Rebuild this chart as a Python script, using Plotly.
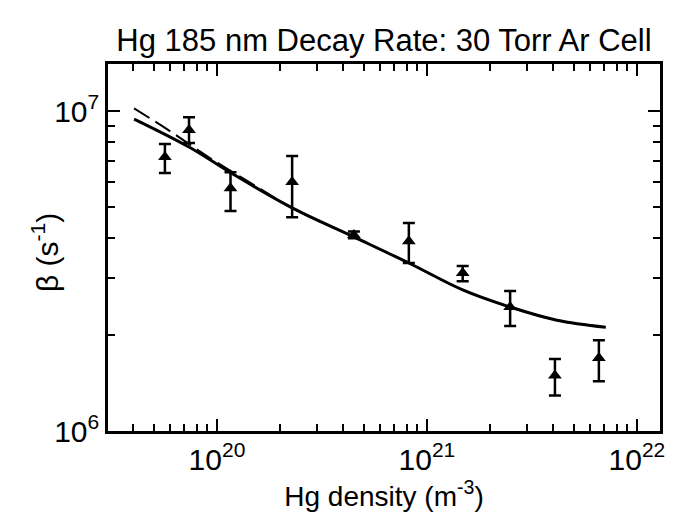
import plotly.graph_objects as go

# Measured data (Hg density in m^-3, decay rate beta in s^-1)
hg_density = [5.65e19, 7.36e19, 1.16e20, 2.28e20, 4.49e20, 8.2e20, 1.48e21, 2.49e21, 4.07e21, 6.59e21]
beta = [7.18e6, 8.73e6, 5.74e6, 6.0e6, 4.10e6, 3.92e6, 3.12e6, 2.44e6, 1.49e6, 1.69e6]
beta_hi = [7.89e6, 9.57e6, 6.44e6, 7.23e6, 4.2e6, 4.47e6, 3.28e6, 2.74e6, 1.68e6, 1.92e6]
beta_lo = [6.4e6, 7.94e6, 4.87e6, 4.66e6, 4.0e6, 3.35e6, 2.94e6, 2.13e6, 1.29e6, 1.43e6]

# Model curves
fit_x = [4.03e19, 7.36e19, 1.17e20, 2.28e20, 4.49e20, 8.2e20, 1.48e21, 2.49e21, 4.16e21, 7.11e21]
fit_solid = [9.44e6, 7.72e6, 6.40e6, 4.98e6, 4.04e6, 3.35e6, 2.76e6, 2.44e6, 2.22e6, 2.11e6]
dash_x = [4.03e19, 5.85e19, 9.26e19, 1.52e20, 2.28e20, 4.49e20, 8.2e20, 1.48e21, 2.49e21, 4.16e21, 7.11e21]
fit_dash = [1.02e7, 8.73e6, 7.13e6, 5.84e6, 4.98e6, 4.04e6, 3.35e6, 2.76e6, 2.44e6, 2.22e6, 2.11e6]

x_ticks = [1e20, 1e21, 1e22]
x_ticktext = ["10<sup>20</sup>", "10<sup>21</sup>", "10<sup>22</sup>"]
y_ticks = [1e6, 1e7]
y_ticktext = ["10<sup>6</sup>", "10<sup>7</sup>"]

x_minor = [float(m) * 10.0 ** e for e in (19, 20, 21) for m in range(2, 10)]
y_minor = [float(m) * 1e6 for m in range(2, 10)]

err_plus = [h - v for h, v in zip(beta_hi, beta)]
err_minus = [v - l for v, l in zip(beta, beta_lo)]

FONT = "Liberation Sans, Arial, sans-serif"

fig = go.Figure()
fig.add_trace(go.Scatter(x=dash_x, y=fit_dash, mode="lines", line=dict(color="black", width=2, dash="18px,7px", shape="spline"),
                         showlegend=False, hoverinfo="skip"))
fig.add_trace(go.Scatter(x=fit_x, y=fit_solid, mode="lines", line=dict(color="black", width=3, shape="spline"),
                         showlegend=False, hoverinfo="skip"))
fig.add_trace(go.Scatter(x=hg_density, y=beta, mode="markers",
                         marker=dict(symbol="triangle-up", size=12, color="black"),
                         error_y=dict(type="data", array=err_plus, arrayminus=err_minus, color="black", thickness=2.5, width=6),
                         showlegend=False))

axis_common = dict(type="log", showline=True, linecolor="black", linewidth=2.5, mirror="ticks",
                   ticks="inside", ticklen=12, tickwidth=2, tickcolor="black", showgrid=False, zeroline=False,
                   tickfont=dict(family=FONT, size=30, color="black"))

fig.update_xaxes(range=[19.481, 22.11], tickmode="array", tickvals=x_ticks, ticktext=x_ticktext,
                 minor=dict(tickmode="array", tickvals=x_minor, ticks="inside", ticklen=7, tickwidth=1.5, tickcolor="black", showgrid=False),
                 title=dict(text="Hg density (m<sup>-3</sup>)", font=dict(family=FONT, size=28, color="black"), standoff=4),
                 **axis_common)
fig.update_yaxes(range=[6, 7.147], tickmode="array", tickvals=y_ticks, ticktext=y_ticktext,
                 minor=dict(tickmode="array", tickvals=y_minor, ticks="inside", ticklen=7, tickwidth=1.5, tickcolor="black", showgrid=False),
                 **axis_common)

fig.add_annotation(text="β (s<sup>-1</sup>)", xref="paper", yref="paper", x=-0.114, y=0.485,
                   xanchor="center", yanchor="middle", textangle=-90, showarrow=False,
                   font=dict(family=FONT, size=30, color="black"))

fig.update_layout(
    width=676, height=514,
    margin=dict(l=108, r=16, t=64, b=83),
    paper_bgcolor="white", plot_bgcolor="white",
    title=dict(text="Hg 185 nm Decay Rate: 30 Torr Ar Cell", x=0.568, xanchor="center", y=0.922, yanchor="middle",
               font=dict(family=FONT, size=31, color="black")),
)

fig.write_html("out.html")
